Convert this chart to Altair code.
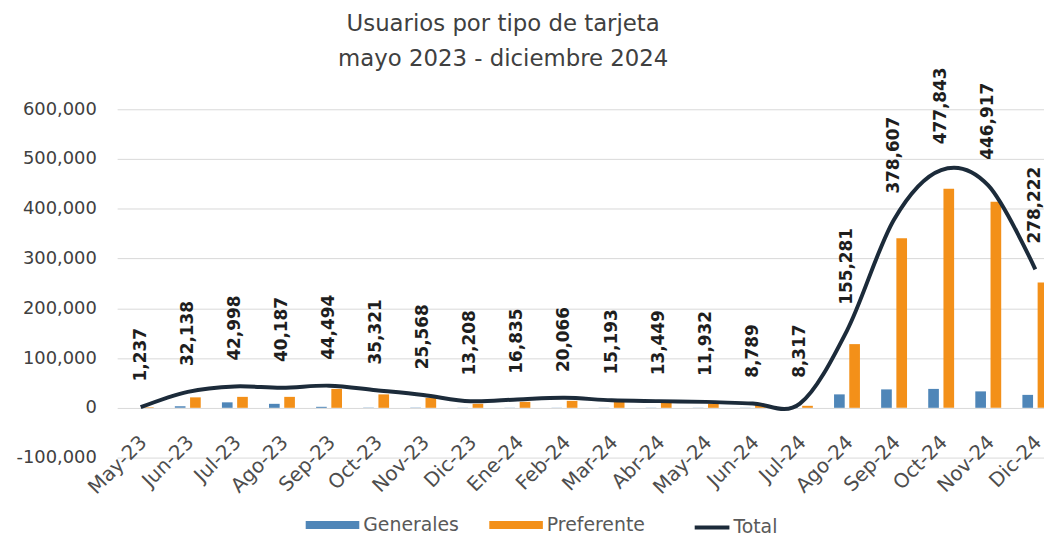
import altair as alt
import pandas as pd

meses = ["May-23", "Jun-23", "Jul-23", "Ago-23", "Sep-23", "Oct-23", "Nov-23", "Dic-23",
         "Ene-24", "Feb-24", "Mar-24", "Abr-24", "May-24", "Jun-24", "Jul-24", "Ago-24",
         "Sep-24", "Oct-24", "Nov-24", "Dic-24"]
generales = [0, 3000, 11000, 8000, 2000, 500, 500, 300, 300, 300, 300, 300, 300, 300, 1500,
             27000, 37000, 38000, 33000, 26000]
preferente = [1000, 21000, 22000, 22000, 38000, 27000, 20000, 8000, 12000, 14000, 12000, 10000,
              8000, 6000, 4000, 128000, 341000, 440000, 414000, 252000]
total = [1237, 32138, 42998, 40187, 44494, 35321, 25568, 13208, 16835, 20066, 15193, 13449,
         11932, 8789, 8317, 155281, 378607, 477843, 446917, 278222]
series = ["Generales", "Preferente"]
y_ticks = [-100000, 0, 100000, 200000, 300000, 400000, 500000, 600000]

BLUE = "#4f86b8"
ORANGE = "#f39019"
NAVY = "#1c2b3a"
FONT = "DejaVu Sans"

bars_df = pd.DataFrame({
    "mes": meses * 2,
    "tipo": [series[0]] * len(meses) + [series[1]] * len(meses),
    "valor": generales + preferente,
})
tot_df = pd.DataFrame({"mes": meses, "total": total, "serie": ["Total"] * len(meses)})

x_enc = alt.X(
    "mes:N", sort=meses,
    scale=alt.Scale(range=[0, 949], paddingInner=0.45, paddingOuter=0.225),
    axis=alt.Axis(title=None, labelAngle=-45, labelAlign="right", labelBaseline="top",
                  labelPadding=24, labelOffset=-4, domain=False, ticks=False, offset=-50,
                  grid=False, labelFontSize=20, labelColor="#4d4d4d", labelFont=FONT),
)
y_scale = alt.Scale(domain=[-100000, 600000], nice=False, zero=False)
y_axis = alt.Axis(title=None, values=y_ticks, domain=False, ticks=False, tickSize=0,
                  labelPadding=21, grid=True, gridColor="#d9d9d9", gridWidth=1,
                  labelFontSize=18, labelColor="#404040", labelFont=FONT,
                  labelExpr="datum.value < 0 ? '-' + format(-datum.value, ',') : format(datum.value, ',')")

bars = alt.Chart(bars_df).mark_bar().encode(
    x=x_enc,
    xOffset=alt.XOffset("tipo:N", sort=series, scale=alt.Scale(paddingInner=0.3)),
    y=alt.Y("valor:Q", scale=y_scale, axis=y_axis),
    color=alt.Color("tipo:N", sort=series,
                    scale=alt.Scale(domain=series, range=[BLUE, ORANGE]),
                    legend=alt.Legend(title=None, orient="none", legendX=190, legendY=392,
                                      direction="horizontal",
                                      symbolType="M-1,-0.15L1,-0.15L1,0.15L-1,0.15Z",
                                      symbolSize=2916, symbolStrokeWidth=0,
                                      labelFontSize=19, labelColor="#595959", labelFont=FONT,
                                      labelOffset=4, columnPadding=30)),
)

line = alt.Chart(tot_df).mark_line(interpolate="cardinal", strokeWidth=4).encode(
    x=x_enc,
    y=alt.Y("total:Q", scale=y_scale, axis=y_axis),
    stroke=alt.Stroke("serie:N", scale=alt.Scale(domain=["Total"], range=[NAVY]),
                      legend=alt.Legend(title=None, orient="none", legendX=580, legendY=402,
                                        symbolType="stroke", symbolSize=1225,
                                        symbolStrokeWidth=4,
                                        labelFontSize=19, labelColor="#595959",
                                        labelFont=FONT, labelOffset=2)),
)

labels = alt.Chart(tot_df).mark_text(
    angle=270, align="left", baseline="middle", dx=26,
    fontSize=17, fontWeight="bold", color="#1e1e1e", font=FONT,
).encode(
    x=x_enc,
    y=alt.Y("total:Q", scale=y_scale, axis=y_axis),
    text=alt.Text("total:Q", format=","),
)

chart = alt.layer(bars, line, labels).properties(
    width=934, height=351,
    autosize=alt.AutoSizeParams(type="none"),
    padding={"left": 110, "top": 100, "right": 0, "bottom": 77},
    title=alt.Title(["Usuarios por tipo de tarjeta", "mayo 2023 - diciembre 2024"],
                    fontSize=23, font=FONT, fontWeight="normal", color="#404040",
                    lineHeight=36, anchor="middle", dx=-78, dy=65, offset=38,
                    baseline="bottom"),
).configure_view(stroke=None)

chart.save("out.html", embed_options={"renderer": "svg", "actions": False})
